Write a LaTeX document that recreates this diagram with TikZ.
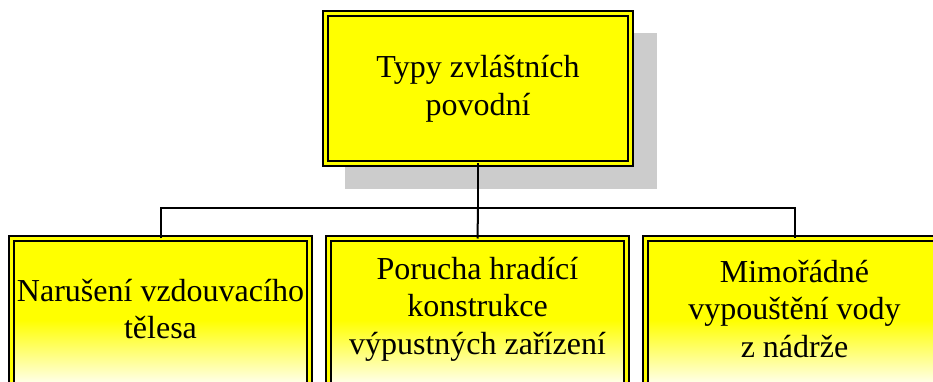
\documentclass[tikz,border=0pt]{standalone}
\usepackage{fontspec}
\setmainfont{Liberation Serif}
\definecolor{yel}{RGB}{255,255,0}
\definecolor{shadowgray}{RGB}{204,204,204}
\pgfdeclareverticalshading{yfade}{100bp}{color(0bp)=(white); color(32bp)=(yel!6); color(51bp)=(yel); color(100bp)=(yel)}
\tikzset{
  dbl/.style={draw=black, line width=1.8pt, double=yel, double distance=3pt},
  topbox/.style={dbl, fill=yel, minimum width=305pt, minimum height=150pt, inner sep=0pt, outer sep=0pt, align=center, font=\fontsize{32}{38}\selectfont},
  lowbox/.style={dbl, shading=yfade, minimum width=298pt, minimum height=170pt, inner sep=0pt, outer sep=0pt, anchor=north},
  lowtext/.style={align=center, font=\fontsize{32}{37.5}\selectfont, inner sep=0pt},
  conn/.style={draw=black, line width=2pt}
}
\begin{document}
\begin{tikzpicture}[x=1pt,y=1pt]
\useasboundingbox (0,0) rectangle (933,382);
\clip (0,0) rectangle (933,382);
% shadow
\fill[shadowgray] (345,193) rectangle (657,349);
% top box
\node[topbox] (top) at (478,293.5) {Typy zvláštních\\povodní};
% lower boxes
\node[lowbox] (b1) at (160.5,143.5) {};
\node[lowbox] (b2) at (477.5,143.5) {};
\node[lowbox] (b3) at (794.5,143.5) {};
\node[lowtext] (t1) at (160.5,73) {Narušení vzdouvacího\\tělesa};
\node[lowtext] (t2) at (477.5,73) {Porucha hradící\\konstrukce\\výpustných zařízení};
\node[lowtext] (t3) at (794.5,73) {Mimořádné\\vypouštění vody\\z nádrže};
% connectors
\coordinate (j) at (478,174);
\draw[conn] (top.south) -- (j);
\draw[conn] (b1.north) |- (j) -| (b3.north);
\draw[conn] (j) -- (b2.north);
\end{tikzpicture}
\end{document}
